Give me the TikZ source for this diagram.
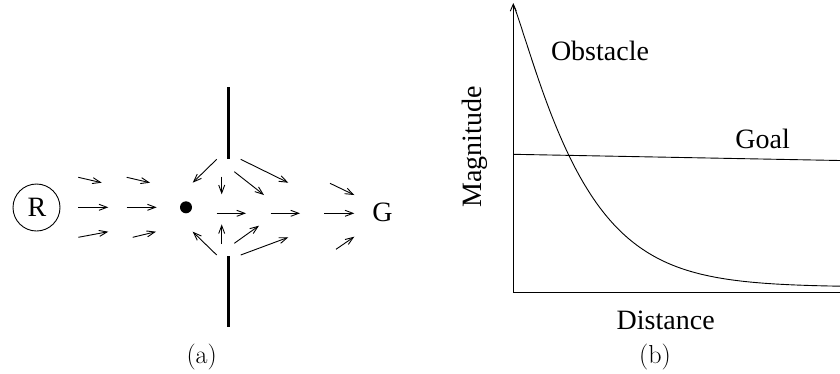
\documentclass[tikz,border=0pt]{standalone}
\usepackage{fontspec}
\newfontfamily\timesfont{Liberation Serif}
\usetikzlibrary{arrows.meta}
\begin{document}
\begin{tikzpicture}[x=1pt,y=-1pt,
  vec/.style={line width=0.9pt,-{Straight Barb[length=8pt,width=6pt]}},
  wall/.style={line width=3pt},
  axis/.style={line width=0.9pt},
  caplab/.style={inner sep=0pt,font=\fontsize{26}{30}\selectfont},
  tlab/.style={inner sep=0pt,font=\timesfont\fontsize{28}{32}\selectfont}]
\useasboundingbox (0,0) rectangle (840,373);
% ---------- (a) ----------
\node[tlab] (robotlab) at (37,207.5) {R};
\draw[line width=0.9pt] (36.5,207.5) circle (23.5pt);
\node[tlab] (goal) at (382.5,212.5) {G};
\fill (186,207.3) circle (6pt);
\draw[wall] (228.3,87) -- (228.3,159);
\draw[wall] (228.3,256) -- (228.3,327);
% left field
\draw[vec] (78.3,177.3) -- (101.7,182.7);
\draw[vec] (126.7,177.3) -- (150,182.7);
\draw[vec] (78.3,207.3) -- (108.3,207.3);
\draw[vec] (126.7,207.3) -- (156.7,207.3);
\draw[vec] (78.3,237.3) -- (108.3,231.7);
\draw[vec] (132.7,237.3) -- (156,231.7);
% near top wall
\draw[vec] (216.7,159.3) -- (192.7,182.7);
\draw[vec] (221.7,176.7) -- (221.7,194.3);
\draw[vec] (234.3,171.7) -- (264,195);
\draw[vec] (240.7,159.3) -- (288.3,182.7);
% middle row
\draw[vec] (216.7,213.3) -- (246,213.3);
\draw[vec] (270.7,213.3) -- (300,213.3);
\draw[vec] (324.3,213.3) -- (354.3,213.3);
% near bottom wall
\draw[vec] (216.7,255) -- (192.7,231.7);
\draw[vec] (221.7,244) -- (221.7,224.3);
\draw[vec] (234.3,243.3) -- (259,225.7);
\draw[vec] (240.7,255) -- (288.3,237.3);
% right group
\draw[vec] (330,183.3) -- (354.3,195);
\draw[vec] (336,249.3) -- (354.3,236.7);
\node[caplab] (capa) at (201.7,357) {(a)};
% ---------- (b) ----------
\coordinate (origin) at (513.3,292);
\coordinate (ytop) at (513.3,3);
\coordinate (xend) at (840,292);
\draw[axis,-{Straight Barb[length=7pt,width=6pt]}] (origin) -- (ytop);
\draw[axis] (origin) -- (xend);
\draw[axis] (513.3,154.3) -- (840,160.5);
\draw[axis] plot[domain=0:326.7,samples=160,smooth] ({513.3+\x},{287-282*exp(-pow(\x/70.4,1.15))});
\node[tlab] (obst) at (600,50.7) {Obstacle};
\node[tlab] (goallab) at (762.7,139.3) {Goal};
\node[tlab,rotate=90] (mag) at (475,146.7) {Magnitude};
\node[tlab] (dist) at (665.7,320) {Distance};
\node[caplab] (capb) at (655,357) {(b)};
\end{tikzpicture}
\end{document}
